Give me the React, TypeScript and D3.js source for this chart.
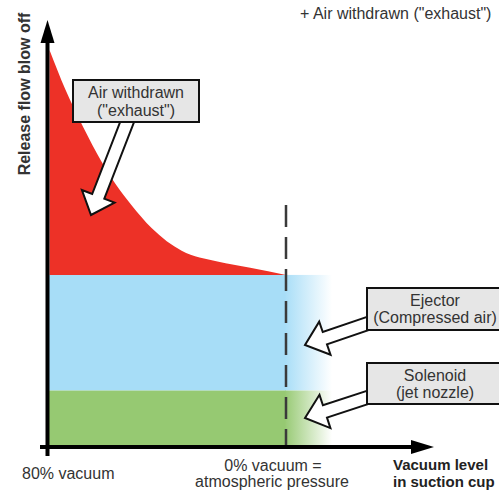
import React from 'react';
import * as d3 from 'd3';

// vacuum level in suction cup (%)
const vacuumLevels = [80, 74, 68, 62, 57, 52, 45, 35, 23, 12, 0];
// total release flow (ejector + air withdrawn), relative units
const totalFlow = [100, 90, 80.5, 72, 66, 61, 55, 49.3, 46.6, 45.0, 43.2];
const solenoidFlow = 14;
const ejectorFlow = 29.2;

const xTicks = ['80% vacuum', '0% vacuum =', 'atmospheric pressure'];
const yLabel = 'Release flow blow off';
const xLabel = ['Vacuum level', 'in suction cup'];
const legendTop = '+ Air withdrawn ("exhaust")';

const W = 499;
const H = 491;
const FONT = '"Liberation Sans", Arial, sans-serif';
const TEXT = '#333';
const FADE = 46;

type Pt = [number, number];

function blockArrow(s: Pt, t: Pt, sw: number, hw: number, hl: number) {
  const dx = t[0] - s[0];
  const dy = t[1] - s[1];
  const len = Math.hypot(dx, dy);
  const ux = dx / len, uy = dy / len;
  const nx = -uy, ny = ux;
  const bx = t[0] - ux * hl, by = t[1] - uy * hl;
  const p = (x: number, y: number, k: number) => `${x + nx * k},${y + ny * k}`;
  return `M${p(s[0], s[1], sw / 2)}L${p(bx, by, sw / 2)}L${p(bx, by, hw / 2)}L${t[0]},${t[1]}L${p(bx, by, -hw / 2)}L${p(bx, by, -sw / 2)}L${p(s[0], s[1], -sw / 2)}Z`;
}

const Callout: React.FC<{ x: number; y: number; w: number; h: number; lines: string[]; cx: number; base: number[] }> = ({ x, y, w, h, lines, cx, base }) => (
  <g>
    <rect x={x} y={y} width={w} height={h} fill="#e6e6e6" stroke="#111" strokeWidth={2} />
    {lines.map((l, i) => (
      <text key={i} x={cx} y={base[i]} textAnchor="middle" fontSize={16} fill={TEXT} fontFamily={FONT}>{l}</text>
    ))}
  </g>
);

export default function App() {
  const x = d3.scaleLinear().domain([80, 0]).range([47.5, 286]);
  const y = d3.scaleLinear().domain([0, 100]).range([446, 50]);

  const x0 = x(80);
  const x1 = x(0);
  const y0 = y(0);

  const redArea = d3.area<number>()
    .x((_, i) => x(vacuumLevels[i]) + (i === 0 ? 2 : 0))
    .y0(() => y(solenoidFlow + ejectorFlow))
    .y1(d => y(d))
    .curve(d3.curveMonotoneX);

  const ejTop = y(solenoidFlow + ejectorFlow);
  const solTop = y(solenoidFlow);

  const airArrow = blockArrow([131, 112], [91, 215], 13, 35, 20);
  const ejArrow = blockArrow([378, 320], [305, 345], 13, 35, 21);
  const solArrow = blockArrow([378, 394], [305, 418], 13, 35, 21);

  return (
    <svg width={W} height={H} style={{ position: 'absolute', left: 0, top: 0 }} fontFamily={FONT}>
      <defs>
        <linearGradient id="gBlue" gradientUnits="userSpaceOnUse" x1={x1 - 2} x2={x1 + FADE} y1={0} y2={0}>
          <stop offset="0" stopColor="#a7ddf7" />
          <stop offset="1" stopColor="#ffffff" />
        </linearGradient>
        <linearGradient id="gGreen" gradientUnits="userSpaceOnUse" x1={x1 - 2} x2={x1 + FADE} y1={0} y2={0}>
          <stop offset="0" stopColor="#96c972" />
          <stop offset="1" stopColor="#ffffff" />
        </linearGradient>
      </defs>

      {/* bands */}
      <rect x={x0} y={ejTop} width={x1 - x0} height={solTop - ejTop} fill="#a7ddf7" />
      <rect x={x1 - 0.5} y={ejTop} width={FADE + 0.5} height={solTop - ejTop} fill="url(#gBlue)" />
      <rect x={x0} y={solTop} width={x1 - x0} height={y0 - solTop} fill="#96c972" />
      <rect x={x1 - 0.5} y={solTop} width={FADE + 0.5} height={y0 - solTop} fill="url(#gGreen)" />
      <path d={redArea(totalFlow) || ''} fill="#ed3127" />

      {/* 0% vacuum line */}
      <line x1={x1} x2={x1} y1={205} y2={y0} stroke="#3a3a3a" strokeWidth={2.5} strokeDasharray="22 10" />

      {/* axes */}
      <line x1={40} x2={414} y1={447} y2={447} stroke="#000" strokeWidth={4} />
      <path d="M411,440L434,447L411,454Z" fill="#000" />
      <line x1={x0} x2={x0} y1={456} y2={40} stroke="#000" strokeWidth={4} />
      <path d={`M${x0 - 7},43L${x0},20L${x0 + 7},43Z`} fill="#000" />

      {/* callouts */}
      <path d={airArrow} fill="#fff" stroke="#111" strokeWidth={2} strokeLinejoin="miter" />
      <Callout x={73} y={80} w={126} h={42} lines={['Air withdrawn', '("exhaust")']} cx={136} base={[98, 116]} />
      <path d={ejArrow} fill="#fff" stroke="#111" strokeWidth={2} />
      <Callout x={367} y={288} w={160} h={42} lines={['Ejector', '(Compressed air)']} cx={435} base={[306, 323]} />
      <path d={solArrow} fill="#fff" stroke="#111" strokeWidth={2} />
      <Callout x={367} y={363} w={160} h={41} lines={['Solenoid', '(jet nozzle)']} cx={435} base={[381, 398]} />

      {/* labels */}
      <text transform="translate(30,94) rotate(-90)" textAnchor="middle" fontSize={16} fontWeight="bold" fill={TEXT}>{yLabel}</text>
      <text x={22} y={479} fontSize={16} fill={TEXT}>{xTicks[0]}</text>
      <text x={x1 - 13} y={471} textAnchor="middle" fontSize={16} fill={TEXT}>{xTicks[1]}</text>
      <text x={x1 - 14} y={487} textAnchor="middle" fontSize={16} fill={TEXT}>{xTicks[2]}</text>
      <text x={393} y={470} fontSize={15} fontWeight="bold" fill="#222">{xLabel[0]}</text>
      <text x={393} y={487} fontSize={15} fontWeight="bold" fill="#222">{xLabel[1]}</text>
      <text x={300} y={19} fontSize={16} fill={TEXT}>{legendTop}</text>
    </svg>
  );
}
